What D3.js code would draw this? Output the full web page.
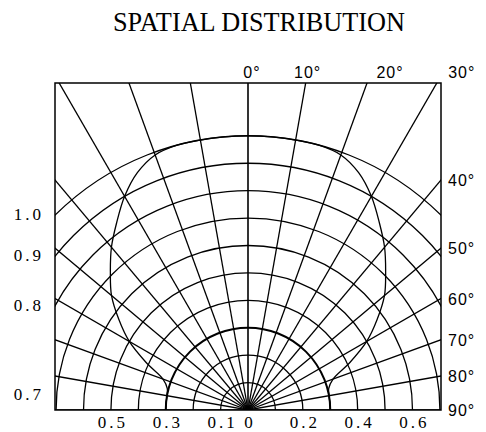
<!DOCTYPE html>
<html>
<head>
<meta charset="utf-8">
<script src="https://cdn.jsdelivr.net/npm/d3@7"></script>
<style>
  body { margin: 0; background: #fff; }
  svg { display: block; }
</style>
</head>
<body>
<svg id="chart" width="486" height="432"></svg>
<script>
// grid
const spokeAngles = [-90, -80, -70, -60, -50, -40, -30, -20, -10, 0, 10, 20, 30, 40, 50, 60, 70, 80, 90];
const ringValues = [0.1, 0.2, 0.3, 0.4, 0.5, 0.6, 0.7, 0.8, 0.9, 1.0];
const boldRing = 0.3;
// labels
const topAngleLabels = [0, 10, 20, 30];
const sideAngleLabels = [40, 50, 60, 70, 80, 90];
const leftRingLabels = [1.0, 0.9, 0.8, 0.7];
const bottomLabels = [-0.5, -0.3, -0.1, 0, 0.2, 0.4, 0.6];
// relative intensity curve
const curveAngles = [-90, -85, -80, -75, -70, -65, -60, -55, -50, -45, -40, -35, -30, -25, -20, -15, -10, -5,
  0, 5, 10, 15, 20, 25, 30, 35, 40, 45, 50, 55, 60, 65, 70, 75, 80, 85, 90];
const curveValues = [0.30, 0.30, 0.30, 0.305, 0.33, 0.41, 0.50, 0.575, 0.65, 0.71, 0.775, 0.835, 0.90, 0.955, 0.99, 1.0, 1.0, 1.0,
  1.0, 1.0, 1.0, 1.0, 0.99, 0.955, 0.90, 0.835, 0.775, 0.71, 0.65, 0.575, 0.50, 0.41, 0.33, 0.305, 0.30, 0.30, 0.30];

const xMax = 0.704, yMax = 1.193;
const x = d3.scaleLinear().domain([-xMax, xMax]).range([55, 441]);
const y = d3.scaleLinear().domain([0, yMax]).range([410, 83]);
const r = d3.scaleLinear().domain([0, 1]).range([0, x(1) - x(0)]);
const cx = x(0), cy = y(0);
const rad = (d) => d * Math.PI / 180;

const svg = d3.select("#chart");

svg.append("text")
  .attr("x", 259).attr("y", 31)
  .attr("text-anchor", "middle")
  .attr("font-family", "Liberation Serif")
  .attr("font-size", 28)
  .attr("textLength", 292)
  .attr("lengthAdjust", "spacingAndGlyphs")
  .text("SPATIAL DISTRIBUTION");

svg.append("clipPath").attr("id", "box")
  .append("rect")
  .attr("x", x(-xMax)).attr("y", y(yMax))
  .attr("width", x(xMax) - x(-xMax)).attr("height", y(0) - y(yMax));

const g = svg.append("g").attr("clip-path", "url(#box)");

// rings
g.selectAll("path.ring")
  .data(ringValues)
  .join("path")
  .attr("class", "ring")
  .attr("d", (v) => {
    const p = d3.path();
    p.moveTo(cx - r(v), cy);
    p.arc(cx, cy, r(v), Math.PI, 2 * Math.PI);
    return p.toString();
  })
  .attr("fill", "none")
  .attr("stroke", "#000")
  .attr("stroke-width", (v) => (v === boldRing ? 2 : 1.3));

// spokes
g.selectAll("line.spoke")
  .data(spokeAngles)
  .join("line")
  .attr("class", "spoke")
  .attr("x1", cx).attr("y1", cy)
  .attr("x2", (a) => x(2 * Math.sin(rad(a))))
  .attr("y2", (a) => y(2 * Math.cos(rad(a))))
  .attr("stroke", "#000")
  .attr("stroke-width", (a) => (a === 0 ? 1.6 : 1.3));

// distribution curve
const line = d3.lineRadial()
  .angle((d, i) => rad(curveAngles[i]))
  .radius((d) => r(d))
  .curve(d3.curveCatmullRom);

g.append("path")
  .attr("transform", `translate(${cx},${cy})`)
  .attr("d", line(curveValues))
  .attr("fill", "none")
  .attr("stroke", "#000")
  .attr("stroke-width", 1.3);

// box
svg.append("rect")
  .attr("x", x(-xMax)).attr("y", y(yMax))
  .attr("width", x(xMax) - x(-xMax)).attr("height", y(0) - y(yMax))
  .attr("fill", "none")
  .attr("stroke", "#000")
  .attr("stroke-width", 1.5);

// angle labels on top
const topShift = { 0: 4, 10: 2, 20: 23, 30: 25 };
svg.selectAll("text.top")
  .data(topAngleLabels)
  .join("text")
  .attr("class", "top")
  .attr("x", (a) => x(yMax * Math.tan(rad(a))) + topShift[a])
  .attr("y", 78)
  .attr("text-anchor", "middle")
  .attr("font-family", "Liberation Sans")
  .attr("font-size", 16)
  .attr("letter-spacing", 1)
  .text((a) => a + "°");

// angle labels on the right
svg.selectAll("text.side")
  .data(sideAngleLabels)
  .join("text")
  .attr("class", "side")
  .attr("x", x(xMax) + 7)
  .attr("y", (a) => y(xMax / Math.tan(rad(a))) + 6)
  .attr("font-family", "Liberation Sans")
  .attr("font-size", 16)
  .attr("letter-spacing", 1)
  .text((a) => a + "°");

// ring labels on the left
svg.selectAll("text.left")
  .data(leftRingLabels)
  .join("text")
  .attr("class", "left")
  .attr("x", x(-xMax) - 11)
  .attr("y", (v) => {
    const h = v > xMax ? Math.sqrt(v * v - xMax * xMax) : 0;
    return Math.min(y(h), y(0) - 15) + 5;
  })
  .attr("text-anchor", "end")
  .attr("font-family", "Liberation Serif")
  .attr("font-size", 17)
  .attr("letter-spacing", 3)
  .text((v) => v.toFixed(1));

// ring labels along the bottom
svg.selectAll("text.bottom")
  .data(bottomLabels)
  .join("text")
  .attr("class", "bottom")
  .attr("x", (v) => x(v) + 2)
  .attr("y", 428)
  .attr("text-anchor", "middle")
  .attr("font-family", "Liberation Serif")
  .attr("font-size", 17)
  .attr("letter-spacing", 3)
  .text((v) => (v === 0 ? "0" : Math.abs(v).toFixed(1)));
</script>
</body>
</html>
